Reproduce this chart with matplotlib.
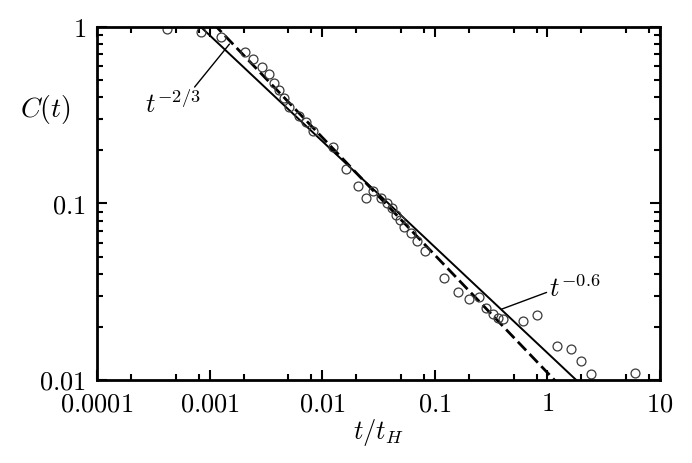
import numpy as np
import matplotlib
matplotlib.use("Agg")
import matplotlib.pyplot as plt
from matplotlib.ticker import LogLocator, FuncFormatter, NullFormatter

t_data = [4.2e-4, 8.3e-4, 1.25e-3, 2.07e-3, 2.45e-3, 2.9e-3, 3.35e-3, 3.76e-3,
          4.17e-3, 4.6e-3, 5.1e-3, 6.2e-3, 7.2e-3, 8.2e-3, 0.0125, 0.0162,
          0.0206, 0.0247, 0.0282, 0.033, 0.0373, 0.0413, 0.0448, 0.0486,
          0.053, 0.0617, 0.0697, 0.0817, 0.1216, 0.16, 0.203, 0.245, 0.284,
          0.328, 0.363, 0.407, 0.601, 0.805, 1.21, 1.61, 2.0, 2.42, 5.97]
c_data = [0.97, 0.94, 0.88, 0.725, 0.656, 0.596, 0.542, 0.483,
          0.44, 0.395, 0.353, 0.313, 0.291, 0.258, 0.21, 0.157,
          0.126, 0.108, 0.117, 0.108, 0.1, 0.094, 0.086, 0.081,
          0.074, 0.068, 0.061, 0.054, 0.038, 0.0317, 0.0288, 0.0296, 0.0255,
          0.0238, 0.0224, 0.0222, 0.0215, 0.0233, 0.0156, 0.015, 0.0128, 0.0108, 0.0109]

# power-law guides
amp_06 = 0.01423
exp_06 = -0.6
amp_23 = 0.011
exp_23 = -2.0 / 3.0

plt.rcParams["mathtext.fontset"] = "cm"
plt.rcParams["font.family"] = "DejaVu Serif"
FS = 19


def main():
    fig = plt.figure(figsize=(6.92, 4.63), dpi=100)
    ax = fig.add_axes([0.1402, 0.1793, 0.8136, 0.7624])

    t_fit = np.logspace(-4, 1, 200)
    ax.plot(t_fit, amp_06 * t_fit ** exp_06, color="black", lw=1.4)
    ax.plot(t_fit, amp_23 * t_fit ** exp_23, color="black", lw=2.0,
            dashes=(4.3, 1.8))
    ax.plot(t_data, c_data, "o", ms=6.4, mfc="none", mec="#3a3a3a", mew=0.9)

    ax.set_xscale("log")
    ax.set_yscale("log")
    ax.set_xlim(1e-4, 10)
    ax.set_ylim(0.01, 1)

    fmt = FuncFormatter(lambda v, p: f"${v:g}$")
    ax.xaxis.set_major_locator(LogLocator(base=10, numticks=10))
    ax.xaxis.set_minor_locator(LogLocator(base=10, subs=(2, 5, 8), numticks=10))
    ax.yaxis.set_major_locator(LogLocator(base=10, numticks=10))
    ax.yaxis.set_minor_locator(LogLocator(base=10, subs=np.arange(2, 10), numticks=10))
    ax.xaxis.set_major_formatter(fmt)
    ax.yaxis.set_major_formatter(fmt)
    ax.xaxis.set_minor_formatter(NullFormatter())
    ax.yaxis.set_minor_formatter(NullFormatter())

    ax.tick_params(which="both", direction="in", top=True, right=True,
                   labelsize=FS, width=1.5)
    ax.tick_params(which="major", length=7.5)
    ax.tick_params(which="minor", length=4.5)
    ax.tick_params(axis="x", which="major", pad=8)
    ax.tick_params(axis="y", which="major", pad=8)
    for s in ax.spines.values():
        s.set_linewidth(2.0)

    ax.annotate(r"$t^{-2/3}$", xy=(1.5e-3, 0.80), xytext=(2.66e-4, 0.326),
                fontsize=FS, ha="left", va="baseline",
                arrowprops=dict(arrowstyle="-", lw=1.0, color="black",
                                shrinkA=0, shrinkB=0, relpos=(0.75, 0.75)))
    ax.annotate(r"$t^{-0.6}$", xy=(0.392, 0.0252), xytext=(1.04, 0.0295),
                fontsize=FS, ha="left", va="baseline",
                arrowprops=dict(arrowstyle="-", lw=1.0, color="black",
                                shrinkA=0, shrinkB=0, relpos=(0.0, 0.4)))

    fig.text(45 / 692, 1 - 109 / 463, r"$C(t)$", fontsize=FS + 1,
             ha="center", va="center")
    ax.set_xlabel(r"$t/t_H$", fontsize=FS, labelpad=1)

    fig.savefig("out.png", dpi=100)


if __name__ == "__main__":
    main()
